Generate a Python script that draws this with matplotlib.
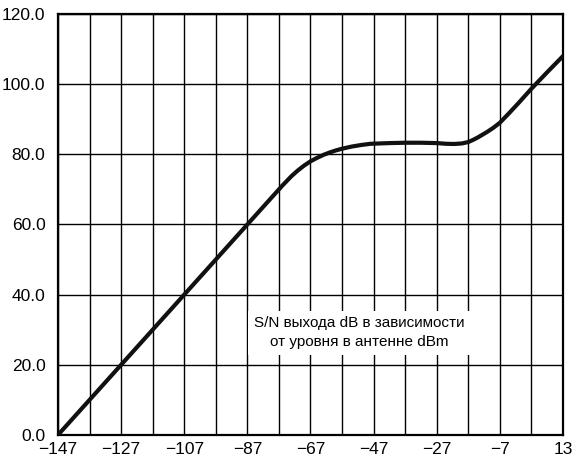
import matplotlib
matplotlib.use('Agg')
import matplotlib.pyplot as plt
import numpy as np

# S/N curve (antenna level dBm -> S/N dB)
level_dbm = [-147, -137, -127, -117, -107, -97, -87, -82, -79, -76, -73, -71, -69, -67,
             -65, -63, -61, -59, -57, -54, -51, -48, -45, -42, -37, -32, -27, -24, -21.5,
             -19, -17, -15.5, -14, -12.5, -11, -9, -7, -4, -1, 3, 8, 13]
snr_db = [0, 10, 20, 30, 40, 50, 60, 65.0, 68.0, 71.0, 73.8, 75.4, 76.8, 78.0,
          78.95, 79.8, 80.5, 81.1, 81.6, 82.2, 82.65, 83.0, 83.1, 83.2, 83.3, 83.3, 83.2, 83.0, 82.95,
          83.1, 83.5, 84.1, 84.8, 85.6, 86.4, 87.6, 89.0, 91.8, 94.7, 98.7, 103.4, 108.0]

x_ticks = [-147, -127, -107, -87, -67, -47, -27, -7, 13]
x_grid = list(range(-147, 14, 10))
y_ticks = [0, 20, 40, 60, 80, 100, 120]
label = 'S/N выхода dB в зависимости\nот уровня в антенне dBm'

plt.rcParams['font.family'] = ['Liberation Sans', 'DejaVu Sans']

fig = plt.figure(figsize=(5.78, 4.63), dpi=100)
ax = fig.add_axes([0.1003, 0.0605, 0.8737, 0.9093])

ax.plot(level_dbm, snr_db, color='#111111', lw=3.0, solid_joinstyle='round', zorder=3)

ax.set_xlim(-147, 13)
ax.set_ylim(0, 120)
ax.set_xticks(x_ticks)
ax.set_xticks(x_grid, minor=True)
ax.set_xticklabels([str(v).replace('-', '\u2212') for v in x_ticks])
ax.set_yticks(y_ticks)
ax.set_yticklabels(['%.1f' % v for v in y_ticks])
ax.grid(True, which='both', color='black', lw=1.0)
ax.tick_params(which='both', length=0, labelsize=12.5)
ax.tick_params(axis='y', pad=9)
ax.tick_params(axis='x', pad=5)
for s in ax.spines.values():
    s.set_linewidth(1.6)

ax.text(-51.6, 29.1, label, ha='center', va='center', fontsize=11,
        linespacing=1.45, zorder=4,
        bbox=dict(facecolor='white', edgecolor='none', pad=4))

fig.savefig('out.png', dpi=100)
